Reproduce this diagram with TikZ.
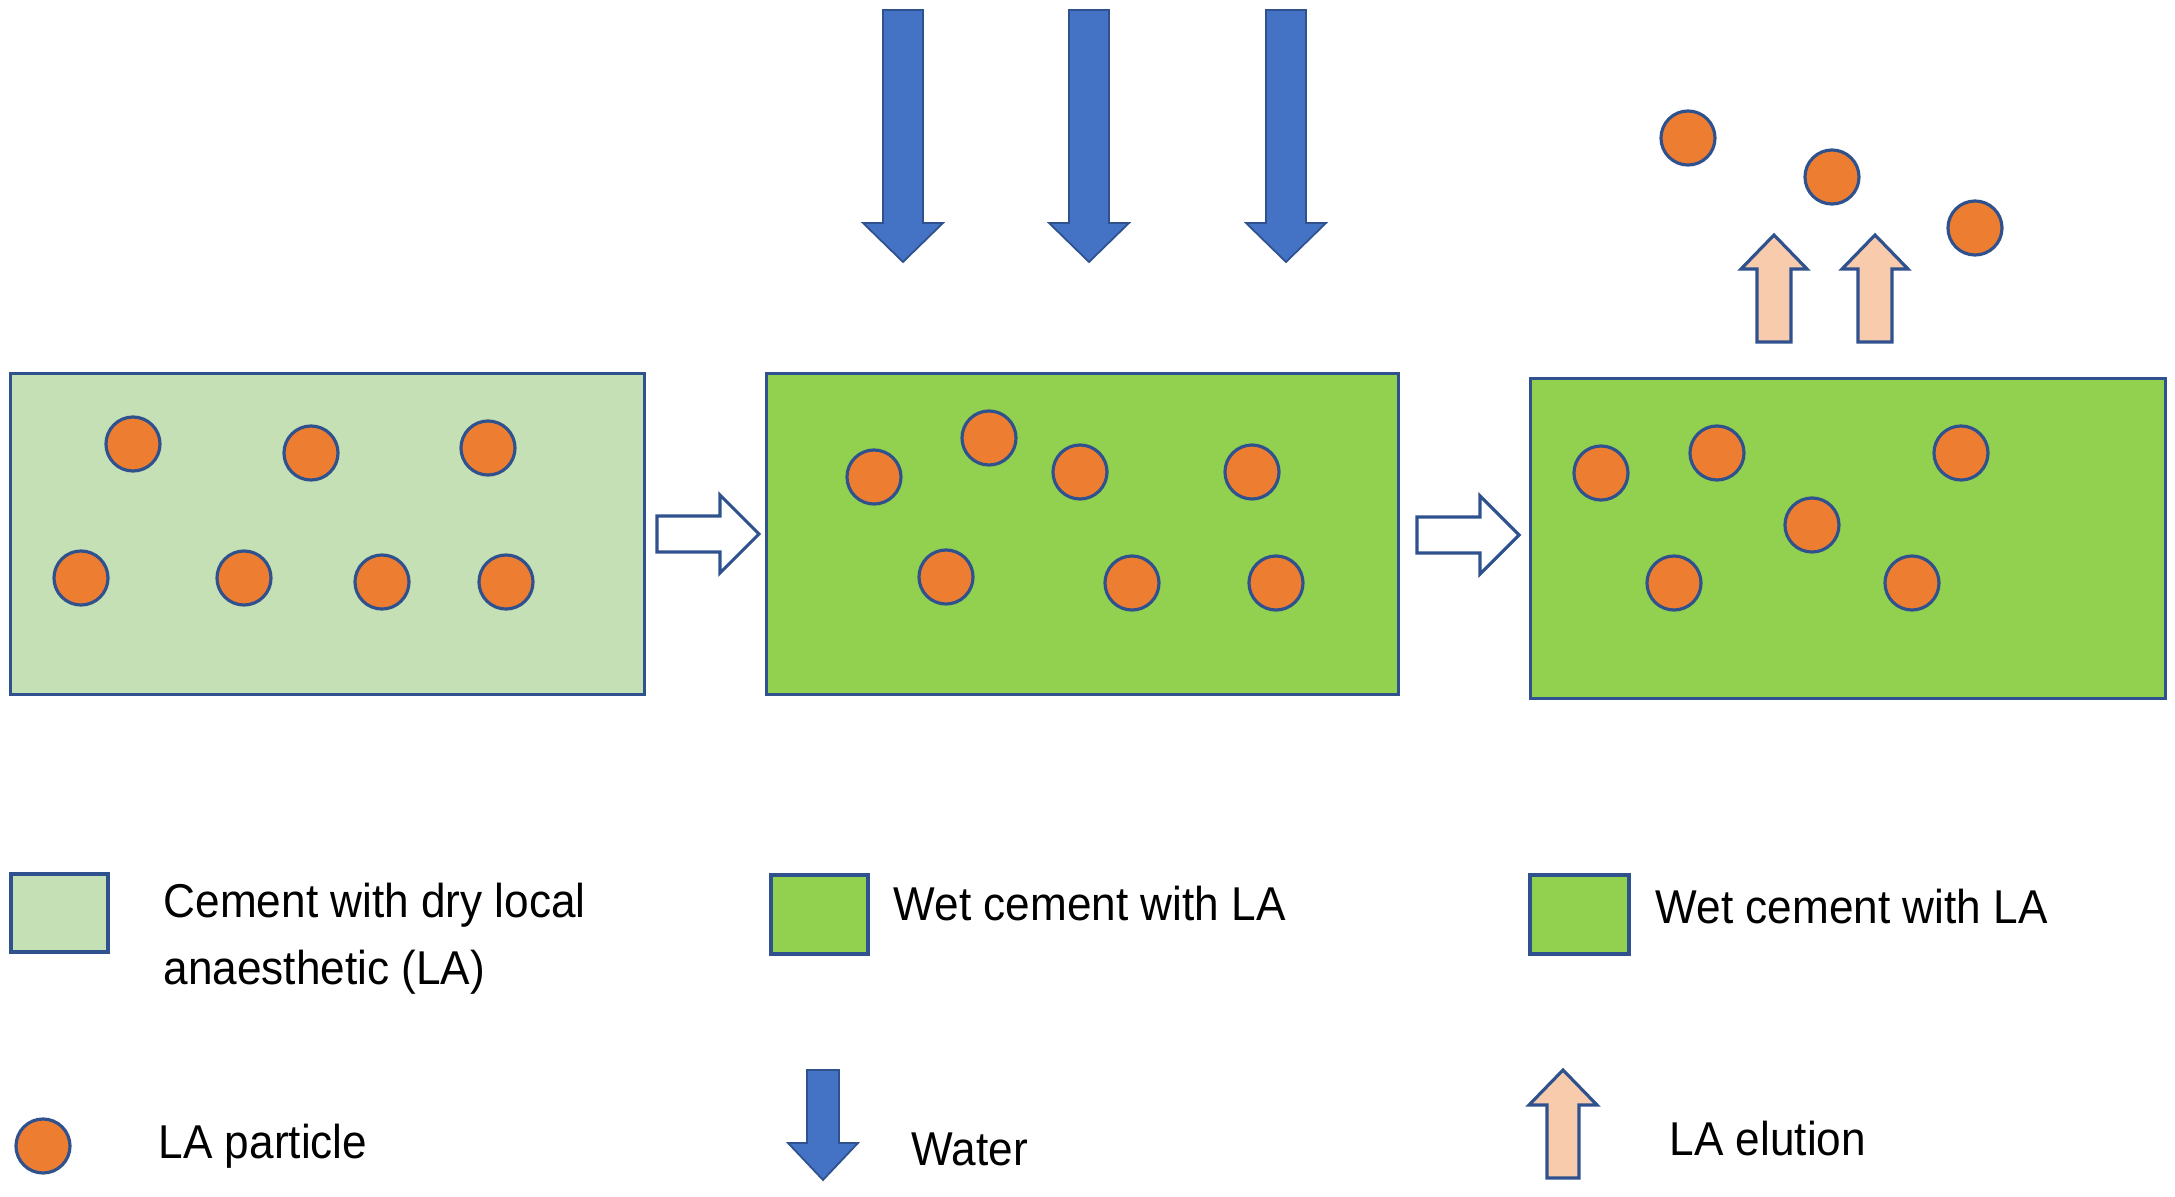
\documentclass[tikz,border=0pt]{standalone}
\usepackage{fontspec}
\setmainfont{Liberation Sans}[FakeStretch=0.93]
\definecolor{outl}{HTML}{2F528F}
\definecolor{dryfill}{HTML}{C5E0B4}
\definecolor{wetfill}{HTML}{92D050}
\definecolor{partfill}{HTML}{ED7D31}
\definecolor{waterfill}{HTML}{4472C4}
\definecolor{elutfill}{HTML}{F8CBAD}
\begin{document}
\begin{tikzpicture}[x=0.01cm,y=-0.01cm,
  boxstyle/.style={rectangle, draw=outl, line width=0.9pt, inner sep=0pt},
  drybox/.style={boxstyle, fill=dryfill},
  wetbox/.style={boxstyle, fill=wetfill},
  particle/.style={circle, draw=outl, line width=0.9pt, fill=partfill, minimum size=0.54cm, inner sep=0pt},
  legtext/.style={anchor=base west, inner sep=0pt, font=\fontsize{13.5pt}{19pt}\selectfont},
  waterstyle/.style={draw=outl, line width=0.5pt, fill=waterfill, line join=miter},
  elutstyle/.style={draw=outl, line width=0.9pt, fill=elutfill, line join=miter},
  hollowstyle/.style={draw=outl, line width=0.9pt, fill=white, line join=miter},
  pics/hollowarr/.style={code={
    \draw[hollowstyle] (0,-18) -- (63,-18) -- (63,-39) -- (102,0) -- (63,39) -- (63,18) -- (0,18) -- cycle;}},
  pics/waterarr/.style n args={4}{code={
    \draw[waterstyle] (-#1,0) -- (#1,0) -- (#1,#3) -- (#2,#3) -- (0,#4) -- (-#2,#3) -- (-#1,#3) -- cycle;}},
  pics/elutarr/.style n args={4}{code={
    \draw[elutstyle] (-#1,0) -- (#1,0) -- (#1,-#3) -- (#2,-#3) -- (0,-#4) -- (-#2,-#3) -- (-#1,-#3) -- cycle;}}
]
\useasboundingbox (0,0) rectangle (2175,1197);

% boxes
\node[drybox, minimum width=6.33cm, minimum height=3.20cm] (b1) at (327.5,534) {};
\node[wetbox, minimum width=6.31cm, minimum height=3.20cm] (b2) at (1082.5,534) {};
\node[wetbox, minimum width=6.34cm, minimum height=3.19cm] (b3) at (1848,538.5) {};

% particles in box 1
\node[particle] (p11) at (133,444) {};
\node[particle] (p12) at (311,453) {};
\node[particle] (p13) at (488,448) {};
\node[particle] (p14) at (81,578) {};
\node[particle] (p15) at (244,578) {};
\node[particle] (p16) at (382,582) {};
\node[particle] (p17) at (506,582) {};

% particles in box 2
\node[particle] (p21) at (874,477) {};
\node[particle] (p22) at (989,438) {};
\node[particle] (p23) at (1080,472) {};
\node[particle] (p24) at (1252,472) {};
\node[particle] (p25) at (946,577) {};
\node[particle] (p26) at (1132,583) {};
\node[particle] (p27) at (1276,583) {};

% particles in box 3
\node[particle] (p31) at (1601,473) {};
\node[particle] (p32) at (1717,453) {};
\node[particle] (p33) at (1961,453) {};
\node[particle] (p34) at (1812,525) {};
\node[particle] (p35) at (1674,583) {};
\node[particle] (p36) at (1912,583) {};

% eluted particles
\node[particle] (e1) at (1688,138) {};
\node[particle] (e2) at (1832,177) {};
\node[particle] (e3) at (1975,228) {};

% hollow process arrows
\pic at (657,534) {hollowarr};
\pic at (1417,535) {hollowarr};

% water arrows
\pic at (903,10) {waterarr={20}{40}{213}{252}};
\pic at (1089,10) {waterarr={20}{40}{213}{252}};
\pic at (1286,10) {waterarr={20}{40}{213}{252}};

% elution arrows
\pic at (1774,342) {elutarr={17}{33}{73}{107}};
\pic at (1875,342) {elutarr={17}{33}{73}{107}};

% legend
\node[drybox, minimum width=0.97cm, minimum height=0.78cm] (l1) at (59.5,913) {};
\node[legtext] (t1a) at (163,917) {Cement with dry local};
\node[legtext] (t1b) at (163,984) {anaesthetic (LA)};

\node[wetbox, minimum width=0.97cm, minimum height=0.79cm] (l2) at (819.5,914.5) {};
\node[legtext] (t2) at (893,920) {Wet cement with LA};

\node[wetbox, minimum width=0.99cm, minimum height=0.79cm] (l3) at (1579.5,914.5) {};
\node[legtext] (t3) at (1655,923) {Wet cement with LA};

\node[particle] (l4) at (43,1146) {};
\node[legtext] (t4) at (158,1158) {LA particle};

\pic at (823,1070) {waterarr={16}{35}{73}{110}};
\node[legtext] (t5) at (911,1165) {Water};

\pic at (1563,1178) {elutarr={16}{34}{73}{108}};
\node[legtext] (t6) at (1669,1155) {LA elution};
\end{tikzpicture}
\end{document}
